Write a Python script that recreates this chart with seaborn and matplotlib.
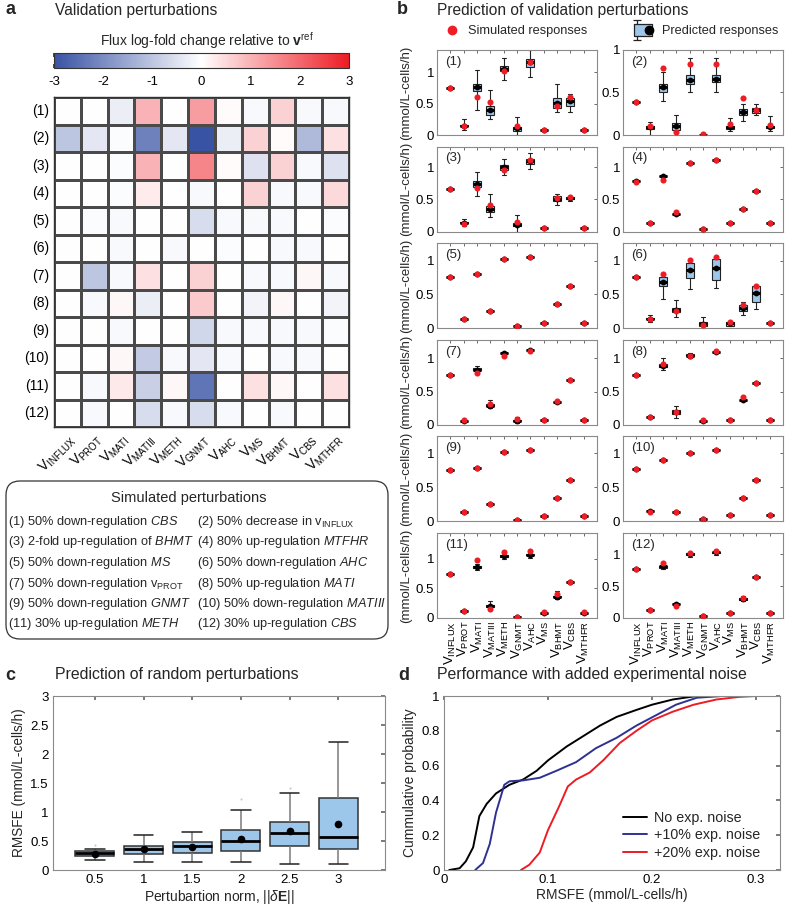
import numpy as np
import pandas as pd
import seaborn as sns
import matplotlib.pyplot as plt
from matplotlib.colors import LinearSegmentedColormap
from matplotlib.patches import FancyBboxPatch
from matplotlib.lines import Line2D
from matplotlib.path import Path
from matplotlib.legend_handler import HandlerTuple

# ---------------- data ----------------
fluxes = ["INFLUX", "PROT", "MATI", "MATIII", "METH", "GNMT", "AHC", "MS", "BHMT", "CBS", "MTHFR"]
perturbations = ["(%d)" % i for i in range(1, 13)]

# panel a: flux log-fold change relative to v_ref
log_fold = [
    [0.0, 0.0, -0.3, 1.0, 0.0, 1.3, 0.05, -0.1, 0.6, -0.1, -0.1],
    [-1.0, -0.4, -0.05, -2.2, -0.4, -3.0, -0.3, 0.6, 0.05, -1.2, 0.4],
    [0.0, 0.0, -0.05, 1.0, 0.0, 1.6, 0.05, -0.5, 0.6, -0.1, -0.5],
    [0.0, 0.0, -0.05, 0.25, 0.0, -0.1, 0.0, 0.6, -0.1, -0.1, 0.5],
    [0.0, -0.05, -0.1, 0.0, 0.0, -0.6, -0.1, -0.1, -0.1, 0.0, -0.05],
    [0.0, 0.0, -0.1, 0.0, -0.1, 0.0, -0.05, 0.0, -0.1, -0.1, 0.0],
    [0.0, -1.0, -0.1, 0.4, 0.0, 0.6, 0.0, -0.1, -0.1, 0.1, -0.1],
    [0.0, -0.1, 0.1, -0.3, 0.0, 0.7, 0.0, -0.2, 0.1, 0.0, -0.2],
    [0.0, 0.0, -0.1, 0.0, 0.0, -0.7, -0.1, -0.1, -0.1, -0.1, -0.05],
    [0.0, 0.0, 0.1, -0.9, -0.1, -0.4, -0.1, 0.0, -0.1, -0.1, 0.0],
    [0.0, -0.1, 0.3, -0.8, 0.1, -2.4, 0.0, 0.4, 0.1, 0.0, 0.4],
    [0.0, -0.1, 0.0, -0.6, -0.1, -0.6, -0.1, 0.0, -0.1, 0.0, 0.0],
]

perturb_text = [
    r"(1) 50% down-regulation $\mathit{CBS}$",
    r"(2) 50% decrease in v$_{\mathregular{INFLUX}}$",
    r"(3) 2-fold up-regulation of $\mathit{BHMT}$",
    r"(4) 80% up-regulation $\mathit{MTFHR}$",
    r"(5) 50% down-regulation $\mathit{MS}$",
    r"(6) 50% down-regulation $\mathit{AHC}$",
    r"(7) 50% down-regulation v$_{\mathregular{PROT}}$",
    r"(8) 50% up-regulation $\mathit{MATI}$",
    r"(9) 50% down-regulation $\mathit{GNMT}$",
    r"(10) 50% down-regulation $\mathit{MATIII}$",
    r"(11) 30% up-regulation $\mathit{METH}$",
    r"(12) 30% up-regulation $\mathit{CBS}$",
]

# panel b: simulated (red) and predicted median (black) responses, mmol/L-cells/h
sim_resp = [
    [0.75, 0.15, 0.61, 0.53, 1.02, 0.14, 1.16, 0.08, 0.47, 0.60, 0.08],
    [0.39, 0.10, 0.79, 0.04, 0.83, 0.01, 0.83, 0.13, 0.43, 0.29, 0.12],
    [0.66, 0.12, 0.67, 0.41, 0.95, 0.15, 1.11, 0.06, 0.52, 0.54, 0.05],
    [0.77, 0.14, 0.80, 0.31, 1.06, 0.04, 1.11, 0.14, 0.35, 0.63, 0.14],
    [0.76, 0.14, 0.81, 0.25, 1.02, 0.03, 1.06, 0.08, 0.36, 0.62, 0.08],
    [0.76, 0.14, 0.81, 0.25, 1.01, 0.05, 1.06, 0.09, 0.35, 0.62, 0.08],
    [0.75, 0.065, 0.78, 0.32, 1.03, 0.08, 1.11, 0.075, 0.36, 0.68, 0.075],
    [0.75, 0.12, 0.91, 0.20, 1.04, 0.075, 1.11, 0.075, 0.42, 0.63, 0.075],
    [0.75, 0.135, 0.79, 0.25, 1.025, 0.025, 1.05, 0.085, 0.35, 0.615, 0.085],
    [0.765, 0.14, 0.90, 0.14, 1.01, 0.04, 1.05, 0.09, 0.34, 0.615, 0.09],
    [0.75, 0.12, 0.98, 0.15, 1.12, 0.01, 1.13, 0.11, 0.40, 0.615, 0.11],
    [0.76, 0.12, 0.86, 0.18, 1.02, 0.025, 1.05, 0.075, 0.31, 0.635, 0.075],
]
pred_resp = [
    [0.75, 0.15, 0.77, 0.40, 1.06, 0.11, 1.16, 0.08, 0.51, 0.55, 0.08],
    [0.39, 0.09, 0.56, 0.10, 0.65, 0.005, 0.66, 0.09, 0.27, 0.29, 0.09],
    [0.66, 0.14, 0.74, 0.35, 1.00, 0.11, 1.10, 0.06, 0.51, 0.52, 0.05],
    [0.78, 0.14, 0.86, 0.28, 1.06, 0.04, 1.11, 0.14, 0.35, 0.63, 0.14],
    [0.76, 0.14, 0.81, 0.25, 1.02, 0.04, 1.06, 0.08, 0.36, 0.62, 0.08],
    [0.76, 0.14, 0.68, 0.27, 0.87, 0.06, 0.89, 0.07, 0.30, 0.52, 0.08],
    [0.75, 0.06, 0.83, 0.29, 1.08, 0.06, 1.13, 0.075, 0.35, 0.68, 0.075],
    [0.75, 0.12, 0.89, 0.20, 1.04, 0.06, 1.10, 0.075, 0.37, 0.63, 0.075],
    [0.75, 0.135, 0.79, 0.25, 1.025, 0.025, 1.05, 0.085, 0.35, 0.615, 0.085],
    [0.765, 0.15, 0.91, 0.14, 1.01, 0.04, 1.05, 0.09, 0.34, 0.615, 0.09],
    [0.75, 0.12, 0.86, 0.20, 1.05, 0.01, 1.07, 0.08, 0.36, 0.615, 0.08],
    [0.76, 0.12, 0.81, 0.22, 1.00, 0.025, 1.03, 0.075, 0.30, 0.635, 0.075],
]
# (panel, flux) -> (whisker low, q1, q3, whisker high); others have no visible spread
box_stats = {
    (0, 1): (0.08, 0.14, 0.16, 0.25), (0, 2): (0.40, 0.71, 0.82, 1.04),
    (0, 3): (0.25, 0.32, 0.47, 0.72), (0, 4): (0.88, 1.02, 1.10, 1.23),
    (0, 5): (0.0, 0.07, 0.13, 0.28), (0, 6): (0.93, 1.08, 1.21, 1.36),
    (0, 8): (0.36, 0.43, 0.59, 0.82), (0, 9): (0.37, 0.47, 0.59, 0.66),
    (1, 1): (0.0, 0.07, 0.11, 0.15), (1, 2): (0.40, 0.51, 0.60, 0.74),
    (1, 3): (0.0, 0.06, 0.14, 0.23), (1, 4): (0.51, 0.60, 0.70, 0.90),
    (1, 6): (0.51, 0.62, 0.70, 0.90), (1, 7): (0.05, 0.07, 0.10, 0.20),
    (1, 8): (0.16, 0.23, 0.31, 0.37), (1, 9): (0.24, 0.26, 0.32, 0.37),
    (1, 10): (0.05, 0.08, 0.10, 0.22),
    (2, 1): (0.08, 0.13, 0.15, 0.20), (2, 2): (0.55, 0.69, 0.79, 0.92),
    (2, 3): (0.23, 0.30, 0.40, 0.58), (2, 4): (0.88, 0.96, 1.04, 1.13),
    (2, 5): (0.0, 0.09, 0.14, 0.26), (2, 6): (0.97, 1.05, 1.13, 1.22),
    (2, 8): (0.42, 0.47, 0.55, 0.58), (2, 9): (0.47, 0.50, 0.53, 0.55),
    (5, 1): (0.09, 0.135, 0.145, 0.19), (5, 2): (0.44, 0.62, 0.76, 0.76),
    (5, 3): (0.16, 0.24, 0.30, 0.42), (5, 4): (0.58, 0.75, 0.97, 0.97),
    (5, 5): (0.0, 0.03, 0.09, 0.16), (5, 6): (0.60, 0.72, 1.03, 1.03),
    (5, 7): (0.03, 0.04, 0.09, 0.10), (5, 8): (0.19, 0.26, 0.34, 0.39),
    (5, 9): (0.28, 0.39, 0.62, 0.62),
    (6, 2): (0.78, 0.82, 0.85, 0.88), (6, 3): (0.26, 0.28, 0.31, 0.38),
    (6, 5): (0.03, 0.05, 0.07, 0.12),
    (7, 2): (0.82, 0.87, 0.92, 1.00), (7, 3): (0.10, 0.17, 0.23, 0.28),
    (7, 4): (1.00, 1.03, 1.06, 1.08),
    (10, 2): (0.81, 0.84, 0.88, 0.91), (10, 3): (0.14, 0.18, 0.22, 0.28),
    (10, 4): (1.00, 1.04, 1.07, 1.12), (10, 6): (1.02, 1.06, 1.09, 1.13),
    (10, 8): (0.33, 0.35, 0.37, 0.45),
    (11, 2): (0.76, 0.79, 0.82, 0.84), (11, 4): (0.95, 0.98, 1.01, 1.03),
    (11, 6): (0.98, 1.01, 1.04, 1.06), (11, 8): (0.26, 0.28, 0.32, 0.34),
}
b_ymax = [1.36, 1.0, 1.32, 1.32, 1.26, 1.26, 1.28, 1.28, 1.25, 1.25, 1.44, 1.33]

# panel c: RMSFE vs perturbation norm
c_norms = ["0.5", "1", "1.5", "2", "2.5", "3"]
c_whisk_lo = [0.17, 0.13, 0.14, 0.14, 0.11, 0.10]
c_q1 = [0.24, 0.28, 0.30, 0.33, 0.42, 0.37]
c_median = [0.29, 0.36, 0.41, 0.50, 0.63, 0.57]
c_q3 = [0.32, 0.42, 0.49, 0.69, 0.82, 1.25]
c_whisk_hi = [0.37, 0.60, 0.66, 1.03, 1.32, 2.21]
c_mean = [0.28, 0.36, 0.40, 0.53, 0.67, 0.80]
c_outlier_norm = ["0.5", "2", "2.5"]
c_outlier_val = [0.43, 1.23, 1.41]

# panel d: cumulative distributions of RMSFE
d_none_x = [0.005, 0.015, 0.021, 0.028, 0.034, 0.041, 0.05, 0.063, 0.076, 0.089, 0.10, 0.118,
            0.134, 0.15, 0.166, 0.185, 0.20, 0.22, 0.243, 0.27]
d_none_y = [0.0, 0.01, 0.05, 0.13, 0.31, 0.38, 0.44, 0.49, 0.52, 0.57, 0.63, 0.71,
            0.77, 0.83, 0.88, 0.92, 0.95, 0.98, 1.0, 1.0]
d_10_x = [0.03, 0.0375, 0.044, 0.05, 0.058, 0.063, 0.076, 0.092, 0.108, 0.127, 0.146, 0.166,
          0.185, 0.204, 0.223, 0.243, 0.268]
d_10_y = [0.0, 0.04, 0.15, 0.33, 0.49, 0.51, 0.515, 0.53, 0.57, 0.62, 0.70, 0.76,
          0.83, 0.89, 0.95, 0.99, 1.0]
d_20_x = [0.074, 0.082, 0.092, 0.10, 0.111, 0.119, 0.127, 0.14, 0.153, 0.169, 0.185, 0.20,
          0.22, 0.24, 0.262, 0.284, 0.30, 0.323]
d_20_y = [0.0, 0.03, 0.10, 0.23, 0.37, 0.48, 0.52, 0.56, 0.63, 0.73, 0.80, 0.86,
          0.91, 0.95, 0.98, 0.995, 1.0, 1.0]
noise_labels = ["No exp. noise", "+10% exp. noise", "+20% exp. noise"]

# ---------------- style ----------------
sns.set_theme(style="white")
plt.rcParams.update({
    "font.family": ["Liberation Sans", "DejaVu Sans"],
    "mathtext.fontset": "custom",
    "mathtext.rm": "Liberation Sans",
    "mathtext.it": "Liberation Sans:italic",
    "mathtext.bf": "Liberation Sans:bold",
    "axes.unicode_minus": False,
    "axes.edgecolor": "#8a8a8a",
    "axes.linewidth": 0.8,
    "xtick.color": "#6a6a6a",
    "ytick.color": "#6a6a6a",
    "xtick.labelcolor": "black",
    "ytick.labelcolor": "black",
    "xtick.direction": "in",
    "ytick.direction": "in",
})
box_blue = "#9dc7ea"
sim_red = "#ee1c25"

W, H = 787, 905
fig = plt.figure(figsize=(W / 100, H / 100), dpi=100)


def add_ax(left, top, right, bottom):
    return fig.add_axes([left / W, 1 - bottom / H, (right - left) / W, (bottom - top) / H])


def fig_text(x, y, s, **kw):
    fig.text(x / W, 1 - y / H, s, **kw)


def flux_label(f):
    return r"V$_{\mathregular{%s}}$" % f


# ---------------- panel a ----------------
fig_text(5, 10, "a", fontsize=13, fontweight="bold", va="center")
fig_text(55, 10, "Validation perturbations", fontsize=11.2, va="center")
fig_text(207, 41, r"Flux log-fold change relative to $\mathbf{v}^{\mathregular{ref}}$",
         fontsize=10, ha="center", va="center")

flux_cmap = LinearSegmentedColormap.from_list("lfc", ["#3953a4", "#ffffff", "#ed1c24"])
lfc = pd.DataFrame(log_fold, index=perturbations, columns=fluxes)
ax_a = add_ax(54, 97, 349, 427)
cax = add_ax(54, 53, 349, 68)
sns.heatmap(lfc, ax=ax_a, cmap=flux_cmap, vmin=-3, vmax=3, linewidths=0.9, linecolor="#4a4a4a",
            cbar_ax=cax, cbar_kws={"orientation": "horizontal", "ticks": [-3, -2, -1, 0, 1, 2, 3]})
ax_a.set_xlabel("")
ax_a.set_ylabel("")
ax_a.tick_params(length=0)
ax_a.set_yticklabels(perturbations, rotation=0, fontsize=10)
ax_a.set_xticklabels([flux_label(f) for f in fluxes], rotation=45, ha="right",
                     rotation_mode="anchor", fontsize=10)
for sp in ax_a.spines.values():
    sp.set_visible(True)
    sp.set_color("#333333")
    sp.set_linewidth(1.0)
cbar = ax_a.collections[0].colorbar
cbar.outline.set_edgecolor("#333333")
cbar.outline.set_linewidth(0.8)
cax.tick_params(direction="in", length=3, top=True, bottom=True, color="#333333",
                labelsize=9.5, pad=6)

ax_box = add_ax(5, 480, 389, 640)
ax_box.set_xlim(0, 384)
ax_box.set_ylim(160, 0)
ax_box.axis("off")
ax_box.add_patch(FancyBboxPatch((1, 1), 382, 158, boxstyle="round,pad=0,rounding_size=14",
                                fc="white", ec="#333333", lw=0.9, clip_on=False))
ax_box.text(184, 18, "Simulated perturbations", ha="center", va="center", fontsize=10.5)
for i, s in enumerate(perturb_text):
    ax_box.text(3 + (i % 2) * 189, 42 + (i // 2) * 20.5, s, ha="left", va="center", fontsize=9.2)

# ---------------- panel b ----------------
fig_text(397, 10, "b", fontsize=13, fontweight="bold", va="center")
fig_text(437, 10, "Prediction of validation perturbations", fontsize=11.2, va="center")

red_handle = Line2D([], [], marker="o", color=sim_red, ls="none", markersize=6)
ibeam = Path([(0, -1), (0, 1), (-0.35, 1), (0.35, 1), (-0.35, -1), (0.35, -1)],
             [Path.MOVETO, Path.LINETO, Path.MOVETO, Path.LINETO, Path.MOVETO, Path.LINETO])
whisk_handle = Line2D([], [], marker=ibeam, color="#222222", ls="none", markersize=15,
                      fillstyle="none", markeredgewidth=0.9)
rect = [(-1.5, -1), (1.5, -1), (1.5, 1), (-1.5, 1), (-1.5, -1)]
box_handle = Line2D([], [], marker=rect, ls="none", markersize=12.5, markerfacecolor=box_blue,
                    markeredgecolor="#222222", markeredgewidth=0.9)
dot_handle = Line2D([], [], marker="o", color="black", ls="none", markersize=6)
fig.legend(handles=[red_handle], labels=["Simulated responses"], loc="center left",
           bbox_to_anchor=(445.6 / W, 1 - 31 / H), frameon=False, fontsize=9.2, borderpad=0,
           borderaxespad=0, handlelength=1.0, handletextpad=0.75)
fig.legend(handles=[(whisk_handle, box_handle, dot_handle)], labels=["Predicted responses"],
           handler_map={tuple: HandlerTuple(ndivide=None, pad=0)}, loc="center left",
           bbox_to_anchor=(634 / W, 1 - 31 / H), frameon=False, fontsize=9.2, borderpad=0,
           borderaxespad=0, handlelength=1.4, handletextpad=0.8)

b_lefts = [437, 623]
b_tops = [50, 146.6, 243.2, 339.8, 436.4, 533]
for k in range(12):
    r, c = divmod(k, 2)
    ax = add_ax(b_lefts[c], b_tops[r], b_lefts[c] + 160, b_tops[r] + 85)
    rows = []
    for j, f in enumerate(fluxes):
        if (k, j) in box_stats:
            lo, q1, q3, hi = box_stats[(k, j)]
            vals = [lo, q1, pred_resp[k][j], q3, hi]
        else:
            vals = [pred_resp[k][j]]
        rows += [(f, v) for v in vals]
    dfk = pd.DataFrame(rows, columns=["flux", "value"])
    sns.boxplot(data=dfk, x="flux", y="value", order=fluxes, ax=ax, color=box_blue, saturation=1,
                width=0.6, whis=(0, 100), showfliers=False, linecolor="#222222", linewidth=0.8,
                medianprops={"color": "black", "linewidth": 2.2})
    sns.stripplot(x=fluxes, y=pred_resp[k], order=fluxes, ax=ax, color="black", size=4.2,
                  jitter=False, zorder=4)
    sns.stripplot(x=fluxes, y=sim_resp[k], order=fluxes, ax=ax, color=sim_red, size=4.4,
                  jitter=False, zorder=5)
    ax.set_xlim(-1, 11)
    ax.set_ylim(0, b_ymax[k])
    ax.set_yticks([0, 0.5, 1])
    ax.set_yticklabels(["0", "0.5", "1"])
    ax.set_xticks(range(11))
    if r == 5:
        ax.set_xticklabels([flux_label(f) for f in fluxes], rotation=90, fontsize=8.5)
    else:
        ax.set_xticklabels([])
    ax.tick_params(top=True, right=True, length=2.5, width=0.7, labelsize=9.5, pad=2)
    ax.set_xlabel("")
    ax.set_ylabel("(mmol/L-cells/h)" if c == 0 else "", fontsize=9.5, labelpad=3)
    ax.text(0.05, 0.86, perturbations[k], transform=ax.transAxes, fontsize=9.5, va="center")

# ---------------- panel c ----------------
fig_text(5, 675, "c", fontsize=13, fontweight="bold", va="center")
fig_text(55, 675, "Prediction of random perturbations", fontsize=11.4, va="center")
ax_c = add_ax(53, 696, 385, 870)
c_rows = []
for i, n in enumerate(c_norms):
    for v in [c_whisk_lo[i], c_q1[i], c_median[i], c_q3[i], c_whisk_hi[i]]:
        c_rows.append((n, v))
c_df = pd.DataFrame(c_rows, columns=["norm", "rmsfe"])
sns.boxplot(data=c_df, x="norm", y="rmsfe", order=c_norms, ax=ax_c, color=box_blue, saturation=1,
            width=0.8, whis=(0, 100), showfliers=False, linecolor="#333333", linewidth=1.1,
            medianprops={"color": "black", "linewidth": 2.0},
            whiskerprops={"color": "#7a7a7a", "linewidth": 1.1},
            capprops={"color": "#222222", "linewidth": 1.1})
sns.stripplot(x=c_outlier_norm, y=c_outlier_val, order=c_norms, ax=ax_c, color="#c8c8c8",
              size=1.5, jitter=False)
sns.stripplot(x=c_norms, y=c_mean, order=c_norms, ax=ax_c, color="black", size=5.5,
              jitter=False, zorder=5)
ax_c.set_xlim(-0.86, 5.96)
ax_c.set_ylim(0, 3)
ax_c.set_yticks(np.arange(0, 3.01, 0.5))
ax_c.set_yticklabels(["0", "0.5", "1", "1.5", "2", "2.5", "3"])
ax_c.tick_params(top=True, right=True, length=3, labelsize=9.5, pad=3)
ax_c.set_xlabel(r"Pertubartion norm, ||$\delta\mathbf{E}$||", fontsize=10, labelpad=1)
ax_c.set_ylabel("RMSFE (mmol/L-cells/h)", fontsize=9.8, labelpad=3)

# ---------------- panel d ----------------
fig_text(398, 675, "d", fontsize=13, fontweight="bold", va="center")
fig_text(437, 675, "Performance with added experimental noise", fontsize=11.4, va="center")
ax_d = add_ax(444, 696, 780, 870)
d_df = pd.concat([
    pd.DataFrame({"rmsfe": d_none_x, "prob": d_none_y, "noise": noise_labels[0]}),
    pd.DataFrame({"rmsfe": d_10_x, "prob": d_10_y, "noise": noise_labels[1]}),
    pd.DataFrame({"rmsfe": d_20_x, "prob": d_20_y, "noise": noise_labels[2]}),
])
sns.lineplot(data=d_df, x="rmsfe", y="prob", hue="noise", hue_order=noise_labels,
             palette=["#000000", "#2e3192", "#ed1c24"], ax=ax_d, linewidth=1.4,
             estimator=None, sort=False)
ax_d.set_xlim(0, 0.323)
ax_d.set_ylim(0, 1)
ax_d.set_xticks([0, 0.1, 0.2, 0.3])
ax_d.set_xticklabels(["0", "0.1", "0.2", "0.3"])
ax_d.set_yticks(np.arange(0, 1.01, 0.2))
ax_d.set_yticklabels(["0", "0.2", "0.4", "0.6", "0.8", "1"])
ax_d.tick_params(top=True, right=True, length=3, labelsize=9.5, pad=3)
ax_d.set_xlabel("RMSFE (mmol/L-cells/h)", fontsize=10, labelpad=1)
ax_d.set_ylabel("Cummulative probability", fontsize=10, labelpad=3)
handles, labels = ax_d.get_legend_handles_labels()
ax_d.legend(handles, labels, loc="lower right", bbox_to_anchor=(0.94, 0.06), frameon=False,
            fontsize=10.3, borderpad=0, borderaxespad=0, handlelength=1.7, handletextpad=0.45,
            labelspacing=0.22)

fig.savefig("out.png", dpi=100)
